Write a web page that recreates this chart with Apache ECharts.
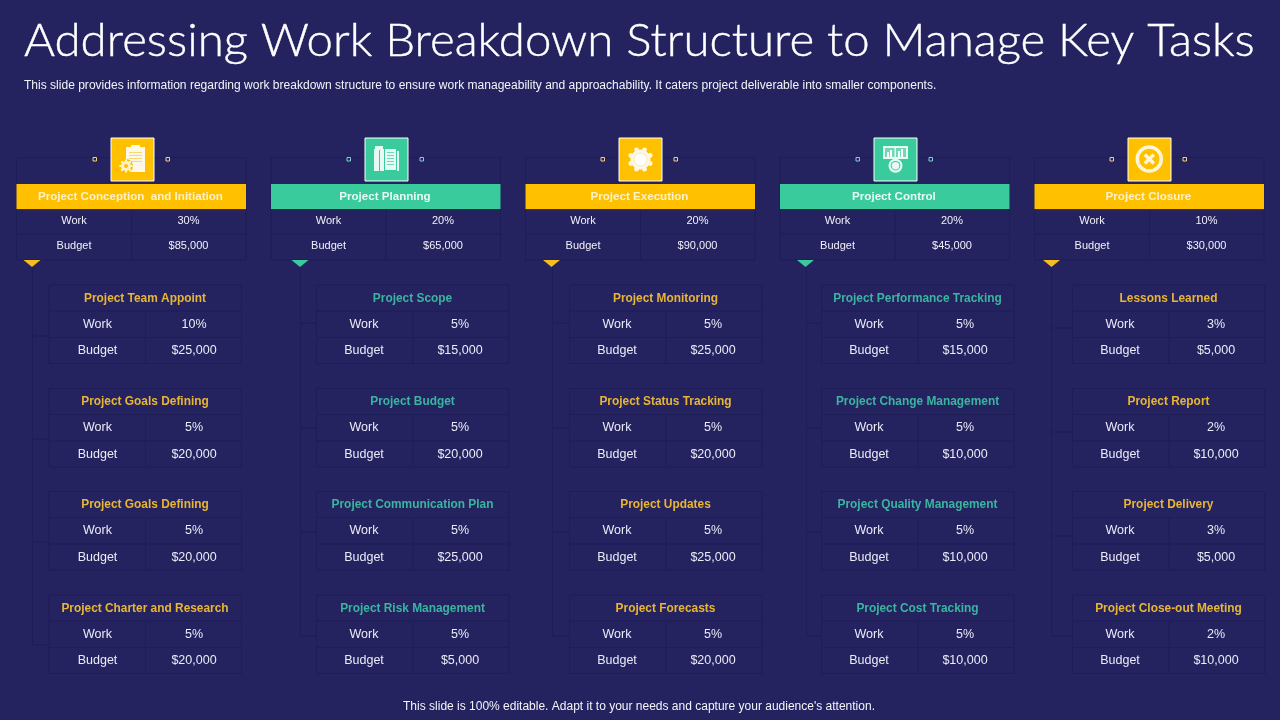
<!DOCTYPE html>
<html><head><meta charset="utf-8">
<style>html,body{margin:0;padding:0;background:#24235f}#c{width:1280px;height:720px}</style>
<script src="https://cdn.jsdelivr.net/npm/echarts@6/dist/echarts.min.js"></script>
</head><body><div id="c"></div>
<script>
// ---------- data ----------
const titleText = 'Addressing Work Breakdown Structure to Manage Key Tasks';
const subtitleText = 'This slide provides information regarding work breakdown structure to ensure work manageability and approachability. It caters project deliverable into smaller components.';
const footerText = "This slide is 100% editable. Adapt it to your needs and capture your audience's attention.";
const rowLabels = ['Work', 'Budget'];
const phaseNames = ['Project Conception  and Initiation', 'Project Planning', 'Project Execution', 'Project Control', 'Project Closure'];
const phaseWork = [30, 20, 20, 20, 10];
const phaseBudget = [85000, 65000, 90000, 45000, 30000];
const taskNames = [
  ['Project Team Appoint', 'Project Goals Defining', 'Project Goals Defining', 'Project Charter and Research'],
  ['Project Scope', 'Project Budget', 'Project Communication Plan', 'Project Risk Management'],
  ['Project Monitoring', 'Project Status Tracking', 'Project Updates', 'Project Forecasts'],
  ['Project Performance Tracking', 'Project Change Management', 'Project Quality Management', 'Project Cost Tracking'],
  ['Lessons Learned', 'Project Report', 'Project Delivery', 'Project Close-out Meeting']
];
const taskWork = [[10, 5, 5, 5], [5, 5, 5, 5], [5, 5, 5, 5], [5, 5, 5, 5], [3, 2, 3, 2]];
const taskBudget = [
  [25000, 20000, 20000, 20000],
  [15000, 20000, 25000, 5000],
  [25000, 20000, 25000, 20000],
  [15000, 10000, 10000, 10000],
  [5000, 10000, 5000, 10000]
];
// ---------- layout & style (page coordinates of the hidden axes) ----------
const BG = '#24235f', LINE = '#1d1d58', YEL = '#ffc000', GRN = '#39cb9b', YT = '#e8b535', GT = '#3ab5a0';
const isYellow = [1, 0, 1, 0, 1];
const phaseLeft = [16.5, 271, 525.5, 780, 1034.5];
const iconLeft = [111, 365, 619, 874, 1128];
const triX = [32, 300, 551.5, 805.5, 1051.5];
const trunkX = [32.5, 300.5, 552.5, 806.5, 1051.5];
const taskLeft = [49, 316.5, 569.5, 821.5, 1072.5];
const taskTops = [285, 388.5, 491.5, 595];
const branchY = [[336, 439, 542, 645], [323, 428, 532, 636], [323, 428, 532, 636], [323, 428, 532, 636], [328, 432, 536, 636]];
const labelOff = [48.5, 47.5, 47.5, 47.5, 47.5];
const valueOff = [145, 143.5, 143.5, 143.5, 143.5];
const FONT = '"Liberation Sans", Arial, sans-serif';
const money = v => '$' + v.toLocaleString('en-US');

function rect(api, x, y, w, h, style) {
  const a = api.coord([x, y]), b = api.coord([x + w, y + h]);
  return {type: 'rect', shape: {x: a[0], y: a[1], width: b[0] - a[0], height: b[1] - a[1]}, style};
}
function line(api, x1, y1, x2, y2) {
  const a = api.coord([x1, y1]), b = api.coord([x2, y2]);
  return {type: 'line', shape: {x1: a[0], y1: a[1], x2: b[0], y2: b[1]}, style: {stroke: LINE, lineWidth: 1}};
}
function text(api, s, x, y, size, fill, weight) {
  const a = api.coord([x, y]);
  return {type: 'text', x: a[0], y: a[1], style: {text: s, fill, font: (weight || 'normal') + ' ' + size + 'px ' + FONT, align: 'center', verticalAlign: 'middle'}};
}
const W = '#ffffff';
function iconShapes(api, i, x, y) {
  const c = [];
  const r = (a, b, w, h, f) => c.push(rect(api, x + a, y + b, w, h, {fill: f || W}));
  const circ = (cx, cy, rad, f, st, lw) => {
    const p = api.coord([x + cx, y + cy]);
    c.push({type: 'circle', shape: {cx: p[0], cy: p[1], r: rad}, style: {fill: f, stroke: st, lineWidth: lw || 0}});
  };
  const bg = isYellow[i] ? YEL : GRN;
  if (i === 0) {
    r(15, 9, 19, 25, '#fff8e6'); r(20, 7, 9, 4, '#fff8e6');
    [14, 17, 20, 23].forEach(v => r(18, v, 13, 1, '#f7d873'));
    circ(15, 28, 7, bg); circ(15, 28, 5, '#fff2c8'); circ(15, 28, 2, bg);
    for (let k = 0; k < 8; k++) {
      const t = k * Math.PI / 4;
      r(15 + 5.6 * Math.cos(t) - 1, 28 + 5.6 * Math.sin(t) - 1, 2, 2, '#fff2c8');
    }
  } else if (i === 1) {
    r(9, 11, 5, 22, '#e6f9f2'); r(15, 11, 4, 22, '#e6f9f2'); r(10, 8, 8, 4, '#e6f9f2'); r(20, 11, 11, 21, '#e6f9f2');
    [14, 17, 20, 23, 26].forEach(v => r(22, v, 7, 1, '#6fd8b5'));
    r(32, 13, 2, 20, '#e6f9f2');
  } else if (i === 2) {
    circ(21.5, 21.5, 10, '#fff8e6');
    for (let k = 0; k < 8; k++) {
      const t = k * Math.PI / 4 + Math.PI / 8;
      const p = api.coord([x + 21.5 + 10.5 * Math.cos(t), y + 21.5 + 10.5 * Math.sin(t)]);
      c.push({type: 'circle', shape: {cx: p[0], cy: p[1], r: 2.4}, style: {fill: '#fff8e6'}});
    }
    circ(21.5, 21.5, 6.5, W, '#f5e3ad', 0.8);
  } else if (i === 3) {
    r(9, 8, 25, 13, '#e6f9f2'); r(11, 10, 21, 9, '#6fd8b5');
    r(13, 14, 2, 5, W); r(16, 12, 2, 7, W); r(24, 13, 2, 6, W); r(27, 11, 2, 8, W);
    r(20.5, 9, 1.5, 13, '#e6f9f2');
    circ(21.5, 27.7, 7, '#e6f9f2'); circ(21.5, 27.7, 4.8, bg); circ(21.5, 27.7, 3.8, '#e6f9f2');
  } else {
    circ(21.3, 21, 12, 'transparent', '#fff5d6', 3.5);
    const a = api.coord([x + 16.8, y + 16.5]), b = api.coord([x + 25.8, y + 25.5]);
    c.push({type: 'line', shape: {x1: a[0], y1: a[1], x2: b[0], y2: b[1]}, style: {stroke: '#fff5d6', lineWidth: 3.5}});
    c.push({type: 'line', shape: {x1: b[0], y1: a[1], x2: a[0], y2: b[1]}, style: {stroke: '#fff5d6', lineWidth: 3.5}});
  }
  return c;
}
function renderPhase(params, api) {
  const i = api.value(0), x = phaseLeft[i], w = 229.5, col = isYellow[i] ? YEL : GRN;
  const children = [];
  const midX = x + 115;
  children.push(rect(api, x, 157.5, w, 102.5, {fill: 'transparent', stroke: LINE, lineWidth: 1}));
  children.push(line(api, midX, 208, midX, 260));
  children.push(line(api, x, 234, x + w, 234));
  children.push(rect(api, x, 209, w, 1.5, {fill: isYellow[i] ? '#3a2c45' : '#1d2d55'}));
  children.push(rect(api, x, 184, w, 25, {fill: col}));
  children.push(text(api, phaseNames[i], x + w / 2 - 0.8, 196.5, 11.6, isYellow[i] ? '#fff2c4' : '#e8fbf4', 'bold'));
  children.push(text(api, rowLabels[0], x + 57.5, 220.5, 11, '#f2f0fa'));
  children.push(text(api, api.value(1) + '%', x + 172, 220.5, 11, '#f2f0fa'));
  children.push(text(api, rowLabels[1], x + 57.5, 245.5, 11, '#f2f0fa'));
  children.push(text(api, money(api.value(2)), x + 172, 245.5, 11, '#f2f0fa'));
  const ix = iconLeft[i];
  children.push(rect(api, ix, 138, 43, 43, {fill: col, stroke: W, lineWidth: 1}));
  children.push(...iconShapes(api, i, ix, 138));
  [ix - 17.5, ix + 55.5].forEach(sx => children.push(rect(api, sx - 0.5, 157.5, 3.5, 3.5, {fill: BG, stroke: isYellow[i] ? '#f3d27a' : '#7cd0d0', lineWidth: 1})));
  const tx = triX[i], tl = api.coord([tx - 8.5, 260]), tr = api.coord([tx + 8.5, 260]), tb = api.coord([tx, 267]);
  children.push({type: 'polygon', shape: {points: [tl, tr, tb]}, style: {fill: isYellow[i] ? '#f6bd22' : GRN}});
  return {type: 'group', children};
}
function renderTask(params, api) {
  const i = api.value(0), j = api.value(1), x = taskLeft[i], y = taskTops[j], w = 192.5;
  const children = [];
  const midX = x + 96.5;
  const bx = trunkX[i], by = branchY[i][j];
  if (j < 3) children.push(line(api, bx, j === 0 ? 266 : by, bx, branchY[i][j + 1]));
  children.push(line(api, bx, by, x, by));
  children.push(rect(api, x, y, w, 78.5, {fill: BG, stroke: LINE, lineWidth: 1}));
  children.push(line(api, x, y + 26, x + w, y + 26));
  children.push(line(api, x, y + 52.5, x + w, y + 52.5));
  children.push(line(api, midX, y + 26, midX, y + 78.5));
  children.push(text(api, taskNames[i][j], midX - 0.5, y + 13.5, 11.9, isYellow[i] ? YT : GT, 'bold'));
  children.push(text(api, rowLabels[0], x + labelOff[i], y + 39.5, 12.5, '#ecebf8'));
  children.push(text(api, api.value(2) + '%', x + valueOff[i], y + 39.5, 12.5, '#ecebf8'));
  children.push(text(api, rowLabels[1], x + labelOff[i], y + 66, 12.5, '#ecebf8'));
  children.push(text(api, money(api.value(3)), x + valueOff[i], y + 66, 12.5, '#ecebf8'));
  return {type: 'group', children};
}
function renderTexts(params, api) {
  const t = api.coord([24, 41]), s = api.coord([24, 85.5]), f = api.coord([639, 706.5]);
  return {type: 'group', children: [
    {type: 'text', x: t[0], y: t[1], scaleX: 1.03, style: {text: titleText, fill: W, stroke: W, lineWidth: 0.4, font: '300 46px Lato, sans-serif', align: 'left', verticalAlign: 'middle'}},
    {type: 'text', x: s[0], y: s[1], scaleX: 1.003, style: {text: subtitleText, fill: '#f4f4fa', font: '12px ' + FONT, align: 'left', verticalAlign: 'middle'}},
    {type: 'text', x: f[0], y: f[1], style: {text: footerText, fill: '#f4f4fa', font: '12px ' + FONT, align: 'center', verticalAlign: 'middle'}}
  ]};
}
const phaseData = phaseNames.map((_, i) => [i, phaseWork[i], phaseBudget[i]]);
const taskData = [];
taskNames.forEach((row, i) => row.forEach((_, j) => taskData.push([i, j, taskWork[i][j], taskBudget[i][j]])));

const chart = echarts.init(document.getElementById('c'), null, {width: 1280, height: 720});
chart.setOption({
  animation: false,
  backgroundColor: BG,
  grid: {left: 0, right: 0, top: 0, bottom: 0},
  xAxis: {type: 'value', min: 0, max: 1280, show: false},
  yAxis: {type: 'value', min: 0, max: 720, inverse: true, show: false},
  tooltip: {show: false},
  series: [
    {type: 'custom', name: 'tasks', renderItem: renderTask, data: taskData, silent: true, clip: false, z: 2},
    {type: 'custom', name: 'phases', renderItem: renderPhase, data: phaseData, silent: true, clip: false, z: 3},
    {type: 'custom', name: 'texts', renderItem: renderTexts, data: [[0]], silent: true, clip: false, z: 4}
  ]
});
</script></body></html>
